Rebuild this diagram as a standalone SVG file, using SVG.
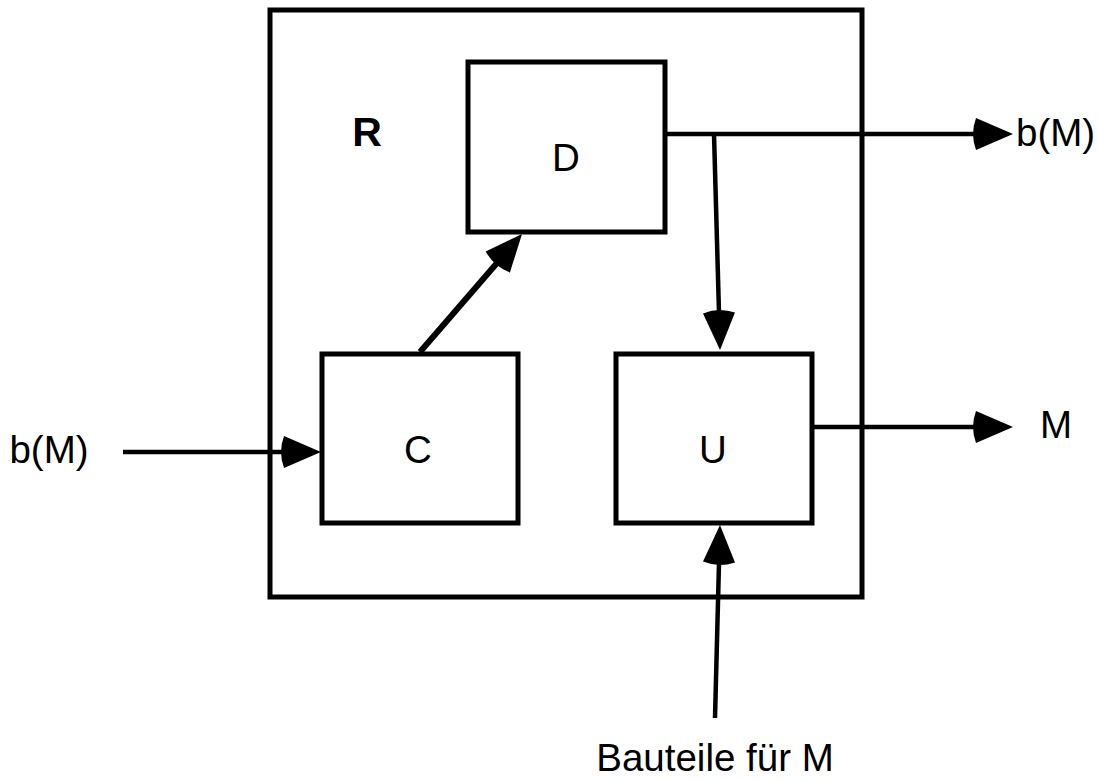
<svg xmlns="http://www.w3.org/2000/svg" width="1098" height="781" viewBox="0 0 1098 781">
<style>
.box{fill:#fff;stroke:#000;stroke-width:5}
.ln{fill:none;stroke:#000;stroke-width:4.5}
.thick{stroke-width:6}
text{font-family:"Liberation Sans",Arial,sans-serif;font-size:38.5px;fill:#000}
.c{text-anchor:middle}
.b{font-weight:bold;font-size:41px}
</style>
<defs>
<marker id="ah" markerUnits="userSpaceOnUse" viewBox="-10 -20 50 40" markerWidth="50" markerHeight="40" refX="7" refY="0" orient="auto" overflow="visible">
<path d="M37,0 L0,-16 Q-6,0 0,16 Z" fill="#000"/>
</marker>
</defs>
<rect id="R" class="box" x="270" y="10" width="592" height="587"/>
<text class="b c" x="367" y="146">R</text>
<g id="nodeD">
<rect class="box" x="468" y="62" width="197" height="170"/>
<text class="c" x="566" y="171">D</text>
</g>
<g id="nodeC">
<rect class="box" x="322" y="354" width="196" height="169"/>
<text class="c" x="418" y="463">C</text>
</g>
<g id="nodeU">
<rect class="box" x="616" y="354" width="196" height="169"/>
<text class="c" x="713" y="463">U</text>
</g>
<g id="connectors">
<line class="ln" x1="123" y1="452" x2="291" y2="452" marker-end="url(#ah)"/>
<line class="ln thick" x1="420" y1="352" x2="502.4" y2="256.7" marker-end="url(#ah)"/>
<line class="ln" x1="665" y1="134" x2="983" y2="134" marker-end="url(#ah)"/>
<line class="ln" x1="714" y1="134" x2="719.2" y2="320" marker-end="url(#ah)"/>
<line class="ln" x1="812" y1="427" x2="983" y2="427" marker-end="url(#ah)"/>
<line class="ln" x1="715" y1="718" x2="719.2" y2="555" marker-end="url(#ah)"/>
</g>
<text class="c" x="49" y="463">b(M)</text>
<text x="1016" y="146">b(M)</text>
<text x="1040" y="438">M</text>
<text class="c" x="715" y="771">Bauteile für M</text>
</svg>
